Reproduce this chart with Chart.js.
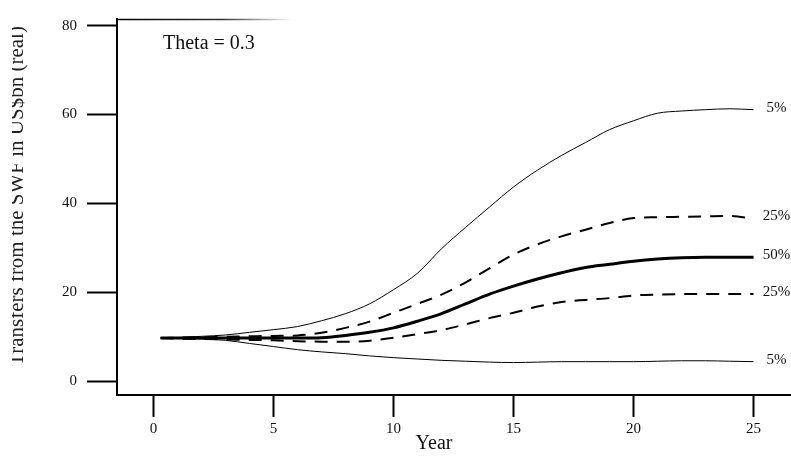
<!DOCTYPE html>
<html>
<head>
<meta charset="utf-8">
<script src="https://cdn.jsdelivr.net/npm/chart.js@4"></script>
<style>
  html, body { margin: 0; padding: 0; background: #fff; }
  #wrap { width: 791px; height: 458px; }
</style>
</head>
<body>
<div id="wrap"><canvas id="c" width="791" height="458"></canvas></div>
<script>
// years on the x axis (first point sits just after 0)
const years = [0.3, 1, 2, 3, 4, 5, 6, 7, 8, 9, 10, 11, 12, 13, 14, 15, 16, 17, 18, 19, 20, 21, 22, 23, 24, 25];

// percentile bands of transfers, US$bn (real)
const upper5  = [9.7, 9.8, 10.1, 10.4, 11.0, 11.6, 12.3, 13.6, 15.2, 17.4, 20.6, 24.3, 29.8, 34.6, 39.2, 43.7, 47.5, 50.8, 53.7, 56.6, 58.6, 60.3, 60.8, 61.1, 61.3, 61.1];
const upper25 = [9.7, 9.8, 9.9, 10.0, 10.1, 10.2, 10.3, 10.9, 12.0, 13.4, 15.4, 17.4, 19.5, 22.2, 25.4, 28.5, 30.8, 32.6, 34.1, 35.6, 36.7, 36.9, 37.0, 37.1, 37.2, 36.6];
const median  = [9.7, 9.7, 9.7, 9.7, 9.7, 9.7, 9.7, 9.8, 10.3, 11.0, 12.0, 13.5, 15.2, 17.4, 19.6, 21.4, 23.0, 24.4, 25.6, 26.3, 27.0, 27.5, 27.8, 27.9, 27.9, 27.9];
const lower25 = [9.7, 9.6, 9.5, 9.4, 9.3, 9.2, 9.0, 8.9, 8.9, 9.1, 9.8, 10.6, 11.5, 12.8, 14.2, 15.4, 16.8, 17.8, 18.3, 18.7, 19.3, 19.5, 19.6, 19.6, 19.6, 19.6];
const lower5  = [9.7, 9.6, 9.5, 9.2, 8.5, 7.8, 7.1, 6.6, 6.2, 5.7, 5.3, 5.0, 4.7, 4.5, 4.3, 4.2, 4.3, 4.4, 4.4, 4.4, 4.4, 4.5, 4.6, 4.6, 4.5, 4.4];

const xTicks = [0, 5, 10, 15, 20, 25];
const yTicks = [0, 20, 40, 60, 80];
const bandLabels = ['5%', '25%', '50%', '25%', '5%'];

const SERIF = "'Liberation Serif', 'DejaVu Serif', serif";

const pts = arr => arr.map((v, i) => ({ x: years[i], y: v }));

function band(data, label, width, dash) {
  return {
    label,
    data: pts(data),
    borderColor: '#000',
    borderWidth: width,
    borderDash: dash || [],
    pointRadius: 0,
    fill: false,
    tension: 0.35,
    cubicInterpolationMode: 'monotone',
  };
}

const extras = {
  id: 'extras',
  afterDraw(chart) {
    const ctx = chart.ctx;
    const xs = chart.scales.x, ys = chart.scales.y;
    const area = chart.chartArea;

    // partial top frame line, fading out
    const g = ctx.createLinearGradient(area.left, 0, area.left + 175, 0);
    g.addColorStop(0, 'rgba(0,0,0,1)');
    g.addColorStop(0.6, 'rgba(0,0,0,0.8)');
    g.addColorStop(1, 'rgba(0,0,0,0)');
    ctx.save();
    ctx.strokeStyle = g;
    ctx.lineWidth = 1.5;
    ctx.beginPath();
    ctx.moveTo(area.left, area.top + 0.5);
    ctx.lineTo(area.left + 175, area.top + 0.5);
    ctx.stroke();
    ctx.restore();

    // labels at the right end of each band
    ctx.save();
    ctx.fillStyle = '#111';
    ctx.font = `15px ${SERIF}`;
    ctx.textAlign = 'center';
    ctx.textBaseline = 'middle';
    chart.data.datasets.forEach((ds, i) => {
      const last = ds.data[ds.data.length - 1];
      ctx.fillText(bandLabels[i], xs.getPixelForValue(25) + 23, ys.getPixelForValue(last.y) - 2);
    });

    // panel note
    ctx.font = `20px ${SERIF}`;
    ctx.textAlign = 'left';
    ctx.fillText('Theta = 0.3', 163, 44);

    // x axis title
    ctx.textAlign = 'center';
    ctx.fillText('Year', 434, 444);
    ctx.restore();

    // y axis title, cut at the left like the original
    ctx.save();
    ctx.beginPath();
    ctx.rect(12, 0, 200, 458);
    ctx.clip();
    ctx.translate(23, 196);
    ctx.rotate(-Math.PI / 2);
    ctx.fillStyle = '#222';
    ctx.font = `21px ${SERIF}`;
    ctx.textAlign = 'center';
    ctx.textBaseline = 'alphabetic';
    ctx.fillText('Transfers from the SWF in US$bn (real)', 0, 0);
    ctx.restore();
  }
};

new Chart(document.getElementById('c'), {
  type: 'line',
  data: {
    datasets: [
      band(upper5, '5%', 1),
      band(upper25, '25%', 2, [13, 9]),
      band(median, '50%', 3),
      band(lower25, '25%', 2, [13, 9]),
      band(lower5, '5%', 1),
    ]
  },
  options: {
    responsive: false,
    animation: false,
    layout: { padding: { top: 10, right: 1, left: 0, bottom: 0 } },
    plugins: { legend: { display: false }, tooltip: { enabled: false } },
    scales: {
      x: {
        type: 'linear',
        min: -1.52,
        max: 26.52,
        afterBuildTicks: s => { s.ticks = xTicks.map(v => ({ value: v })); },
        afterFit: s => { s.height = 63; },
        border: { color: '#000', width: 2 },
        grid: { drawOnChartArea: false, drawTicks: true, tickLength: 22, tickColor: '#000', tickWidth: 2 },
        ticks: { color: '#111', padding: 3, maxRotation: 0, font: { family: SERIF, size: 15 } }
      },
      y: {
        type: 'linear',
        min: -3.1,
        max: 81.5,
        afterBuildTicks: s => { s.ticks = yTicks.map(v => ({ value: v })); },
        afterFit: s => { s.width = 117; },
        border: { color: '#000', width: 2 },
        grid: { drawOnChartArea: false, drawTicks: true, tickLength: 30, tickColor: '#000', tickWidth: 2 },
        ticks: { color: '#111', padding: 10, font: { family: SERIF, size: 15 } }
      }
    }
  },
  plugins: [extras]
});
</script>
</body>
</html>
